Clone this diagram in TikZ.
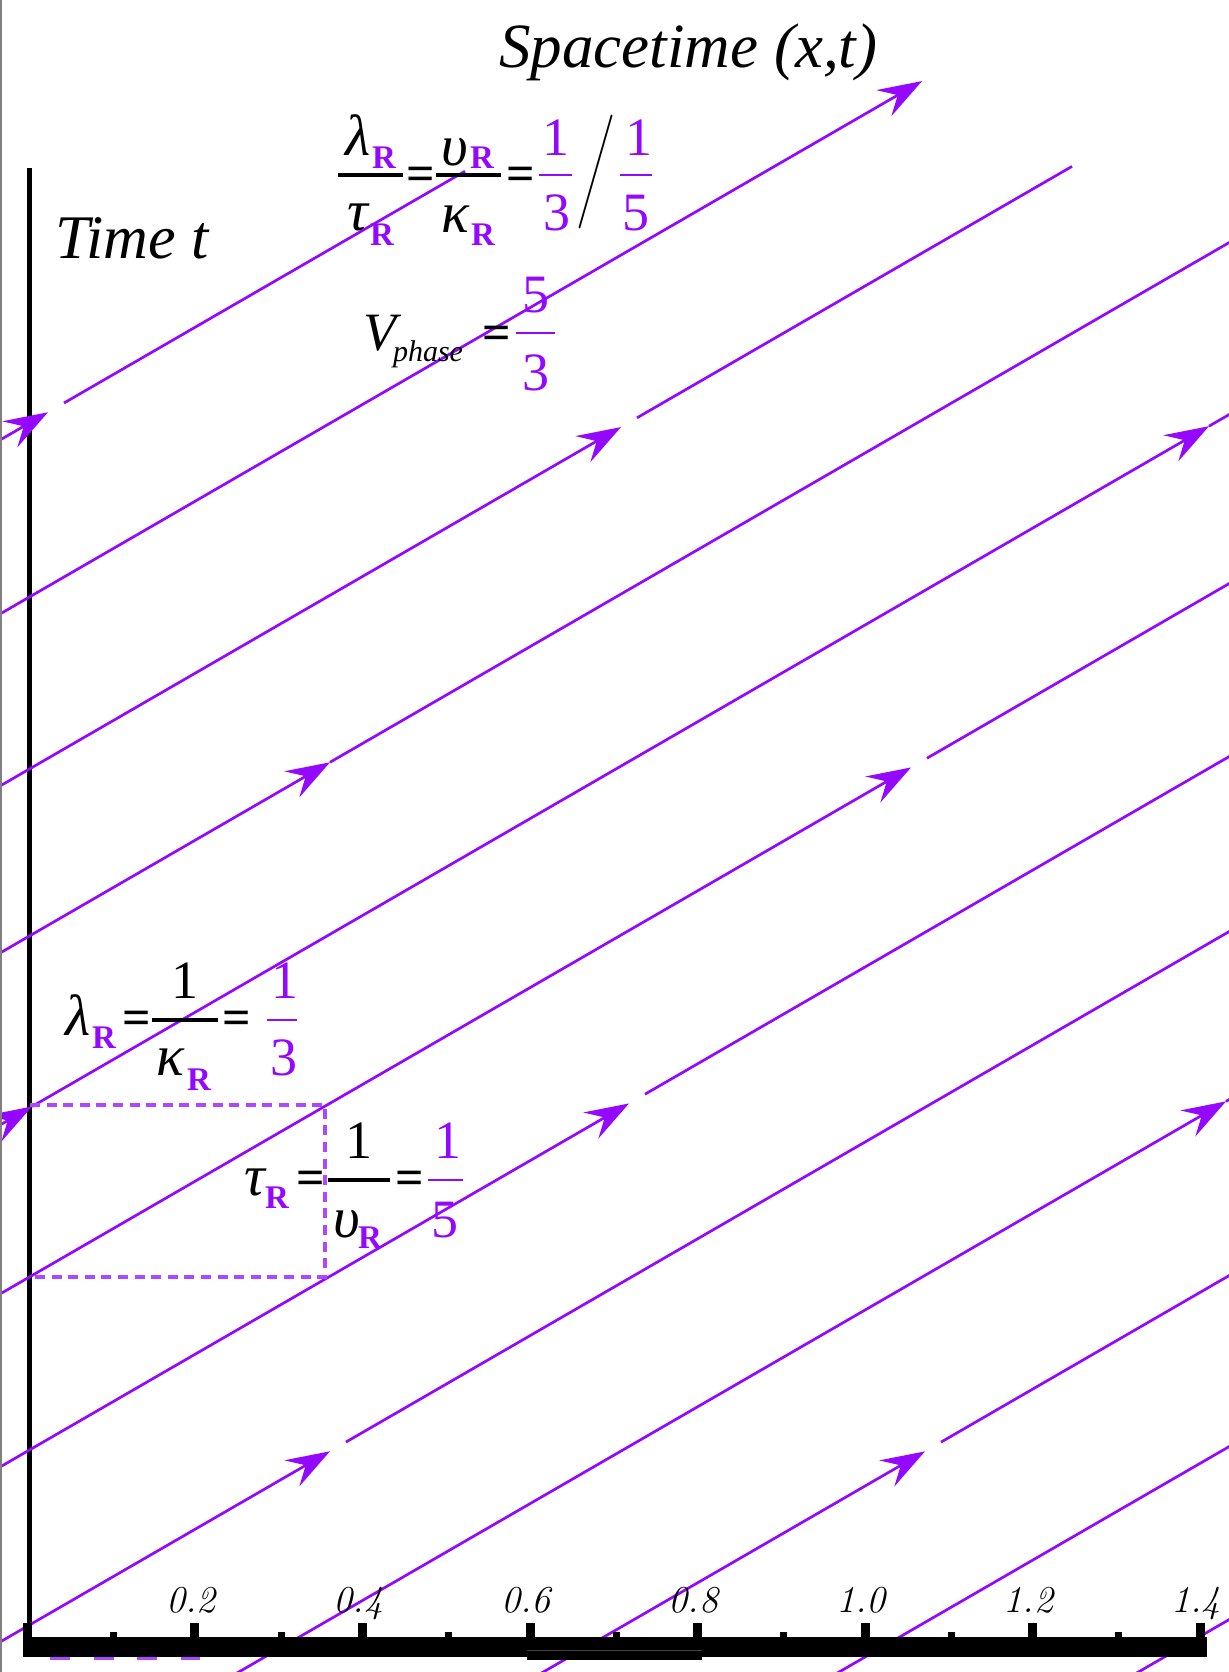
\documentclass[tikz,border=0pt]{standalone}
\usepackage{fontspec}
\usepackage{graphicx}
\newfontfamily\tnr{Liberation Serif}
\usetikzlibrary{arrows.meta}
\definecolor{vio}{RGB}{148,8,255}
\definecolor{viod}{RGB}{172,72,255}
\newcommand\wseg[4][]{\draw[wave,#1] ({#3},{#2-0.578*(#3)}) -- ({#4},{#2-0.578*(#4)});}
\begin{document}
\begin{tikzpicture}[x=0.5pt,y=-0.5pt,
  wave/.style={vio,line width=1.35pt},
  arr/.style={-{Stealth[length=22pt,width=15pt,inset=8pt]}},
  gk/.style={font=\tnr\itshape\fontsize{29}{29}\selectfont,inner sep=0pt,anchor=base},
  rs/.style={font=\tnr\bfseries\fontsize{16.5}{16.5}\selectfont,text=vio,inner sep=0pt,anchor=base},
  num/.style={font=\tnr\fontsize{27}{27}\selectfont,inner sep=0pt,anchor=base},
  pn/.style={num,text=vio},
  eqs/.style={font=\tnr\bfseries\fontsize{25}{25}\selectfont,inner sep=0pt,anchor=base},
  fbar/.style={line width=1.6pt},
  pbar/.style={vio,line width=1.35pt},
  dbox/.style={viod,line width=2pt,dash pattern=on 5pt off 3.3pt},
  ticklab/.style={font=\itshape\fontsize{19}{19}\selectfont,inner sep=0pt,anchor=base},
  bigtxt/.style={font=\tnr\itshape\fontsize{31.5}{31.5}\selectfont,inner sep=0pt,anchor=base west}]
\useasboundingbox (0,0) rectangle (1229,1672);
\fill[white] (0,0) rectangle (1229,1672);
% vertical axis (under the lines)
\draw[line width=2.5pt] (29.5,168) -- (29.5,1640);
% wave lines
\begin{scope}
\clip (0,0) rectangle (1229,1672);
\wseg[arr]{440}{-30}{48}
\wseg{440}{64}{465}
\wseg[arr]{614}{-10}{922}
\wseg[arr]{786}{-10}{621}
\wseg{786}{637}{1072}
\wseg[arr]{953}{-10}{330}
\wseg{953}{330}{1240}
\wseg[arr]{1125}{-30}{32}
\wseg[arr]{1125}{32}{1209}
\wseg{1125}{1209}{1240}
\wseg[arr]{1294}{-10}{911}
\wseg{1294}{927}{1240}
\wseg[arr]{1467}{-10}{629}
\wseg{1467}{645}{1240}
\wseg[arr]{1642}{-10}{330}
\wseg{1642}{346}{1240}
\wseg[arr]{1810}{-10}{1226}
\wseg{1810}{1226}{1240}
\wseg[arr]{1986}{-10}{925}
\wseg{1986}{941}{1240}
\wseg{2157}{-10}{1240}
\wseg{2330}{1000}{1240}
% dashed box
\coordinate (bTL) at (30,1105);
\coordinate (bTR) at (325,1105);
\coordinate (bBR) at (325,1277);
\coordinate (bBL) at (30,1277);
\draw[dbox] (bTL) -- (bTR) -- (bBR) -- (bBL);
\draw[viod,line width=2pt,dash pattern=on 10pt off 11.75pt] (50,1658) -- (200,1658);
\end{scope}
% horizontal axis
\fill (23,1637) rectangle (1207,1657);
\fill (527,1650) rectangle (702,1660);
\draw[black!75,line width=0.3pt] (527,1650) -- (702,1650);
\foreach \v/\lab in {0/,0.2/0.2,0.4/0.4,0.6/0.6,0.8/0.8,1.0/1.0,1.2/1.2,1.4/1.4}{
  \fill ({27.5+837.5*\v-4.5},1623) rectangle ({27.5+837.5*\v+4.5},1637);
  \node[ticklab] (t\v) at ({27.5+837.5*\v-4},1612) {\lab};
}
\foreach \v in {0.1,0.3,0.5,0.7,0.9,1.1,1.3}{
  \fill ({30+837.5*\v-3.5},1632) rectangle ({30+837.5*\v+3.5},1637);
}
% titles
\node[bigtxt] (st) at (499,67) {Spacetime (x,t)};
\node[bigtxt,font=\tnr\itshape\fontsize{31}{31}\selectfont] (tt) at (55,258) {Time t};
% top formula
\node[gk] (f1a) at (358,155) {λ};
\node[rs] (f1b) at (384,168) {R};
\draw[fbar] (338,175) -- (403,175);
\node[gk] (f1c) at (358,230) {τ};
\node[rs] (f1d) at (382,245) {R};
\node[eqs] (f1e) at (421,190) {=};
\node[gk] (f1f) at (455,165) {υ};
\node[rs] (f1g) at (482,168) {R};
\draw[fbar] (436,175) -- (501,175);
\node[gk] (f1h) at (455,232) {κ};
\node[rs] (f1i) at (483,245) {R};
\node[eqs] (f1j) at (521,190) {=};
\node[pn] (f1k) at (556,155) {1};
\draw[pbar] (539,175) -- (572,175);
\node[pn] (f1l) at (557,230) {3};
\node[inner sep=0pt] (f1m) at (596,172) {\scalebox{1.45}[1.9]{$\Bigg/$}};
\node[pn] (f1n) at (639,155) {1};
\draw[pbar] (620,175) -- (652,175);
\node[pn] (f1o) at (636,230) {5};
% V phase
\node[gk,font=\tnr\itshape\fontsize{27}{27}\selectfont] (v1) at (380,350) {V};
\node[gk,font=\tnr\itshape\fontsize{15}{15}\selectfont] (v2) at (428,361) {phase};
\node[eqs] (v3) at (497,349) {=};
\node[pn] (v4) at (536,312) {5};
\draw[pbar] (516,333) -- (555,333);
\node[pn] (v5) at (536,390) {3};
% lambda
\node[gk] (l1) at (78,1035) {λ};
\node[rs] (l2) at (104,1048) {R};
\node[eqs] (l3) at (137,1034) {=};
\draw[fbar] (152,1020) -- (218,1020);
\node[num] (l4) at (185,998) {1};
\node[gk] (l5) at (170,1075) {κ};
\node[rs] (l6) at (199,1090) {R};
\node[eqs] (l7) at (237,1034) {=};
\draw[pbar] (267,1020) -- (297,1020);
\node[pn] (l8) at (285,998) {1};
\node[pn] (l9) at (284,1075) {3};
% tau
\node[gk] (p1) at (255,1195) {τ};
\node[rs] (p2) at (277,1208) {R};
\node[eqs] (p3) at (311,1194) {=};
\draw[fbar] (328,1180) -- (390,1180);
\node[num] (p4) at (359,1158) {1};
\node[gk] (p5) at (347,1237) {υ};
\node[rs] (p6) at (370,1248) {R};
\node[eqs] (p7) at (410,1194) {=};
\draw[pbar] (428,1180) -- (463,1180);
\node[pn] (p8) at (448,1158) {1};
\node[pn] (p9) at (445,1237) {5};
% left border
\draw[black!50,line width=0.8pt] (0.8,0) -- (0.8,1672);
\end{tikzpicture}
\end{document}
